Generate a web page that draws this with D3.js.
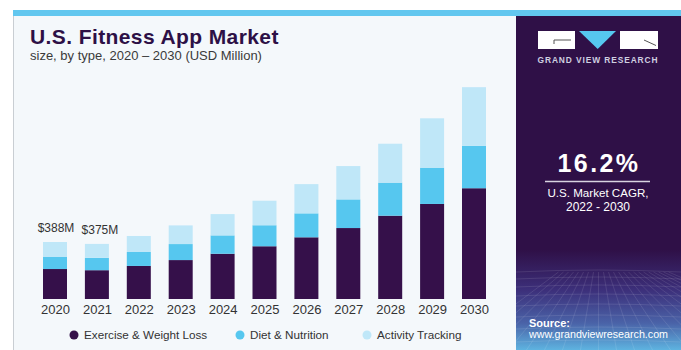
<!DOCTYPE html>
<html>
<head>
<meta charset="utf-8">
<script src="https://cdn.jsdelivr.net/npm/d3@7"></script>
<style>
  body { margin: 0; background: #fff; }
  svg { display: block; font-family: "Liberation Sans", Arial, sans-serif; }
</style>
</head>
<body>
<div id="chart"></div>
<script>
// values in USD million
const years = ["2020", "2021", "2022", "2023", "2024", "2025", "2026", "2027", "2028", "2029", "2030"];
const exercise = [204, 196, 225, 265, 308, 359, 420, 483, 567, 647, 754];
const diet = [84, 84, 95, 109, 125, 143, 163, 195, 225, 247, 288];
const activity = [100, 95, 109, 127, 145, 167, 199, 227, 265, 336, 400];
const seriesNames = ["Exercise & Weight Loss", "Diet & Nutrition", "Activity Tracking"];
const valueLabels = {"2020": "$388M", "2021": "$375M"};

const colors = ["#35104a", "#56c7ef", "#bfe7f8"];

const W = 681, H = 350;
const svg = d3.select("#chart").append("svg")
  .attr("width", W).attr("height", H);

// frame
svg.append("rect").attr("x", 13).attr("y", 16).attr("width", 503).attr("height", H - 16)
  .attr("fill", "#f4f8fb");
svg.append("line").attr("x1", 13.5).attr("x2", 13.5).attr("y1", 16).attr("y2", H)
  .attr("stroke", "#c9ced3");
svg.append("rect").attr("x", 13).attr("y", 10).attr("width", W - 13).attr("height", 6)
  .attr("fill", "#62c7ef");

// title
svg.append("text").attr("x", 30).attr("y", 44)
  .attr("font-size", 21).attr("font-weight", "bold").attr("letter-spacing", 0.4)
  .attr("fill", "#2d1046").text("U.S. Fitness App Market");
svg.append("text").attr("x", 30).attr("y", 60)
  .attr("font-size", 13).attr("fill", "#3a3a3a")
  .text("size, by type, 2020 \u2013 2030 (USD Million)");

// scales
const x = d3.scalePoint().domain(years).range([55, 474]);
const y = d3.scaleLinear().domain([0, 1500]).range([299, 299 - 1500 * 57 / 388]);
const barW = 24;

const table = years.map((yr, i) => ({
  year: yr,
  [seriesNames[0]]: exercise[i],
  [seriesNames[1]]: diet[i],
  [seriesNames[2]]: activity[i]
}));
const stacked = d3.stack().keys(seriesNames)(table);

svg.append("g").selectAll("g")
  .data(stacked)
  .join("g")
  .attr("fill", (d, i) => colors[i])
  .selectAll("rect")
  .data(d => d)
  .join("rect")
  .attr("x", d => x(d.data.year) - barW / 2)
  .attr("width", barW)
  .attr("y", d => y(d[1]))
  .attr("height", d => y(d[0]) - y(d[1]));

// value labels
svg.append("g").selectAll("text")
  .data(table.filter(d => valueLabels[d.year]))
  .join("text")
  .attr("x", d => x(d.year) + (d.year === "2021" ? 3 : 1))
  .attr("y", d => y(d3.sum(seriesNames, k => d[k])) - 10)
  .attr("text-anchor", "middle")
  .attr("font-size", 12).attr("fill", "#333")
  .text(d => valueLabels[d.year]);

// x axis
const xAxis = svg.append("g")
  .attr("transform", "translate(0,299)")
  .call(d3.axisBottom(x).tickSize(0).tickPadding(6));
xAxis.select(".domain").remove();
xAxis.selectAll("text")
  .attr("font-size", 13).attr("fill", "#333")
  .attr("font-family", "\"Liberation Sans\", Arial, sans-serif");

// legend
const legendX = [74, 240, 367];
const legend = svg.append("g").selectAll("g")
  .data(seriesNames)
  .join("g")
  .attr("transform", (d, i) => "translate(" + legendX[i] + ",335)");
legend.append("circle").attr("r", 4.5).attr("fill", (d, i) => colors[i]);
legend.append("text").attr("x", 10).attr("y", 4.2)
  .attr("font-size", 11.7).attr("fill", "#333")
  .text(d => d);

// right panel
const defs = svg.append("defs");
const grad = defs.append("linearGradient").attr("id", "panelGrad")
  .attr("x1", 0).attr("x2", 0).attr("y1", 0).attr("y2", 1);
grad.append("stop").attr("offset", "0").attr("stop-color", "#2f1047");
grad.append("stop").attr("offset", "0.7").attr("stop-color", "#2f1047");
grad.append("stop").attr("offset", "0.82").attr("stop-color", "#3c2f7a");
grad.append("stop").attr("offset", "0.92").attr("stop-color", "#4a63a8");
grad.append("stop").attr("offset", "1").attr("stop-color", "#5eb3e0");

const px = 516, pw = W - 516;
svg.append("rect").attr("x", px).attr("y", 16).attr("width", pw).attr("height", H - 16)
  .attr("fill", "url(#panelGrad)");

// faint grid texture at the bottom of the panel
const grid = svg.append("g").attr("stroke", "#ffffff").attr("stroke-opacity", 0.1)
  .attr("fill", "none");
[272, 279, 287, 296, 306, 317, 329, 342].forEach(gy => {
  grid.append("path").attr("d", "M" + px + "," + gy + " Q" + (px + pw / 2) + "," + (gy - 4) + " " + W + "," + gy);
});
d3.range(-8, 15).forEach(k => {
  const x0 = px + pw / 2 + k * 5;
  const x1 = px + pw / 2 + k * 18;
  grid.append("line").attr("x1", x0).attr("y1", 272).attr("x2", x1).attr("y2", H);
});

// logo
const logo = svg.append("g");
logo.append("rect").attr("x", 538).attr("y", 31).attr("width", 37).attr("height", 18).attr("fill", "#fff");
logo.append("path").attr("d", "M579,31 L616,31 L597.7,49 Z").attr("fill", "#56c7ef");
logo.append("rect").attr("x", 620).attr("y", 31).attr("width", 38).attr("height", 18).attr("fill", "#fff");
logo.append("path").attr("d", "M554,44 L554,40 L571,40").attr("stroke", "#555").attr("stroke-width", 1).attr("fill", "none");
logo.append("path").attr("d", "M644,40 L656,45.5").attr("stroke", "#555").attr("stroke-width", 1).attr("fill", "none");
svg.append("text").attr("x", 598).attr("y", 62.5).attr("text-anchor", "middle")
  .attr("font-size", 8.4).attr("font-weight", "bold").attr("letter-spacing", 0.9)
  .attr("fill", "#cfcfe0").text("GRAND VIEW RESEARCH");

// CAGR
svg.append("text").attr("x", 599).attr("y", 172).attr("text-anchor", "middle")
  .attr("font-size", 25).attr("font-weight", "bold").attr("letter-spacing", 2.4)
  .attr("fill", "#fff").text("16.2%");
svg.append("line").attr("x1", 545).attr("x2", 650).attr("y1", 181.5).attr("y2", 181.5)
  .attr("stroke", "#d8d3e0").attr("stroke-width", 1.5);
svg.append("text").attr("x", 598).attr("y", 197).attr("text-anchor", "middle")
  .attr("font-size", 11.6).attr("fill", "#fff").text("U.S. Market CAGR,");
svg.append("text").attr("x", 598).attr("y", 211).attr("text-anchor", "middle")
  .attr("font-size", 12).attr("fill", "#fff").text("2022 - 2030");

// source
svg.append("text").attr("x", 529).attr("y", 326.5)
  .attr("font-size", 11).attr("font-weight", "bold").attr("fill", "#fff").text("Source:");
svg.append("text").attr("x", 529).attr("y", 338)
  .attr("font-size", 10.7).attr("fill", "#fff").text("www.grandviewresearch.com");
</script>
</body>
</html>
